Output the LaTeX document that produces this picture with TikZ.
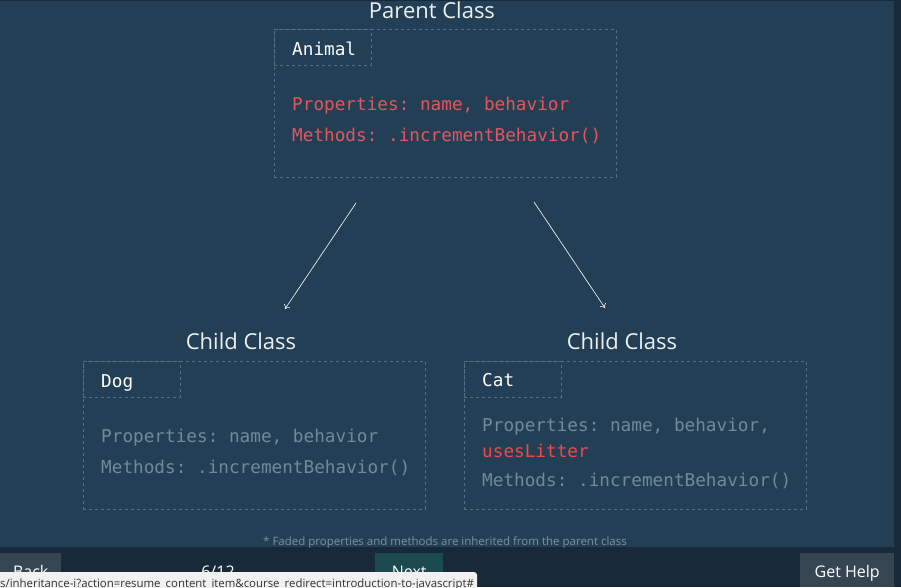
\documentclass[tikz,border=0pt]{standalone}
\usepackage{fontspec}
\setmainfont{Open Sans}
\setmonofont{DejaVu Sans Mono}
\usetikzlibrary{positioning,arrows.meta}
\definecolor{panel}{RGB}{34,63,85}
\definecolor{footbar}{RGB}{24,42,58}
\definecolor{btngray}{RGB}{54,69,82}
\definecolor{btnteal}{RGB}{28,74,81}
\definecolor{dashline}{RGB}{84,110,130}
\definecolor{codered}{RGB}{226,86,92}
\definecolor{litter}{RGB}{240,72,72}
\definecolor{faded}{RGB}{112,138,156}
\definecolor{notegray}{RGB}{122,145,162}
\definecolor{tipbg}{RGB}{241,241,241}
\definecolor{tiptext}{RGB}{50,50,50}

\begin{document}
\begin{tikzpicture}[x=1pt,y=-1pt,
  classbox/.style={draw=dashline,dash pattern=on 3pt off 3pt,line width=0.7pt,
    minimum width=342pt,minimum height=148pt,anchor=north west,inner sep=0pt},
  tabbox/.style={classbox,minimum width=97pt,minimum height=36pt},
  heading/.style={font=\fontsize{22}{26}\selectfont,text=white!92!panel,anchor=base},
  code/.style={font=\ttfamily\fontsize{17.7}{20}\selectfont,anchor=base west,inner sep=0pt},
  button/.style={anchor=north west,inner sep=0pt,minimum height=34pt,
    text height=14pt,text depth=0pt,font=\fontsize{16}{18}\selectfont,text=white},
  inherit/.style={draw=white,line width=0.6pt,-{To[length=4pt,width=7pt]}}]

  \useasboundingbox (0,0) rectangle (901,587);
  \clip (0,0) rectangle (901,587);
  \fill[footbar] (0,0) rectangle (901,587);
  \fill[panel] (0,1) rectangle (894,547);

  % parent class
  \node[classbox] (animal) at (274,29) {};
  \node[tabbox] (animaltab) at (animal.north west) {};
  \node[heading] (parenthead) at (432,18) {Parent Class};
  \node[code,text=white] (animalname) at (292,55) {Animal};
  \node[code,text=codered] (animalprops) at (292,110) {Properties: name, behavior};
  \node[code,text=codered] (animalmeth) at (292,141) {Methods: .incrementBehavior()};

  % child classes
  \foreach \n/\x/\h in {dog/83/241,cat/464/622}{
    \node[classbox] (\n) at (\x,361) {};
    \node[tabbox] (\n tab) at (\n.north west) {};
    \node[heading] (\n head) at (\h,349) {Child Class};
  }
  \node[code,text=white] (dogname) at (101,387) {Dog};
  \node[code,text=faded] (dogprops) at (101,442) {Properties: name, behavior};
  \node[code,text=faded] (dogmeth) at (101,473) {Methods: .incrementBehavior()};
  \node[code,text=white] (catname) at (482,386) {Cat};
  \node[code,text=faded] (catprops) at (482,431) {Properties: name, behavior,};
  \node[code,text=litter] (catextra) at (482,457) {usesLitter};
  \node[code,text=faded] (catmeth) at (482,486) {Methods: .incrementBehavior()};

  % inheritance arrows
  \coordinate (leftfrom) at (356,203);
  \coordinate (leftto) at (285,309);
  \coordinate (rightfrom) at (534,202);
  \coordinate (rightto) at (605,308);
  \draw[inherit] (leftfrom) -- (leftto);
  \draw[inherit] (rightfrom) -- (rightto);

  \node[font=\fontsize{11.5}{13}\selectfont,text=notegray,anchor=base] (footnote)
    at (445,545) {* Faded properties and methods are inherited from the parent class};

  % footer
  \node[button,fill=btngray,minimum width=61pt] (back) at (0,553) {Back};
  \node[button,anchor=north,minimum width=40pt] (pager) at (218,553) {6/12};
  \node[button,fill=btnteal,minimum width=68pt] (next) at (375,553) {Next};
  \node[button,fill=btngray,minimum width=94pt] (gethelp) at (800,553) {Get Help};

  \fill[tipbg,rounded corners=3pt] (-10,572) rectangle (477,600);
  \node[font=\fontsize{11.4}{13}\selectfont,text=tiptext,anchor=base west,inner sep=0pt] (tipurl)
    at (0,587) {s/inheritance-i?action=resume\_content\_item\&course\_redirect=introduction-to-javascript\#};
\end{tikzpicture}
\end{document}
